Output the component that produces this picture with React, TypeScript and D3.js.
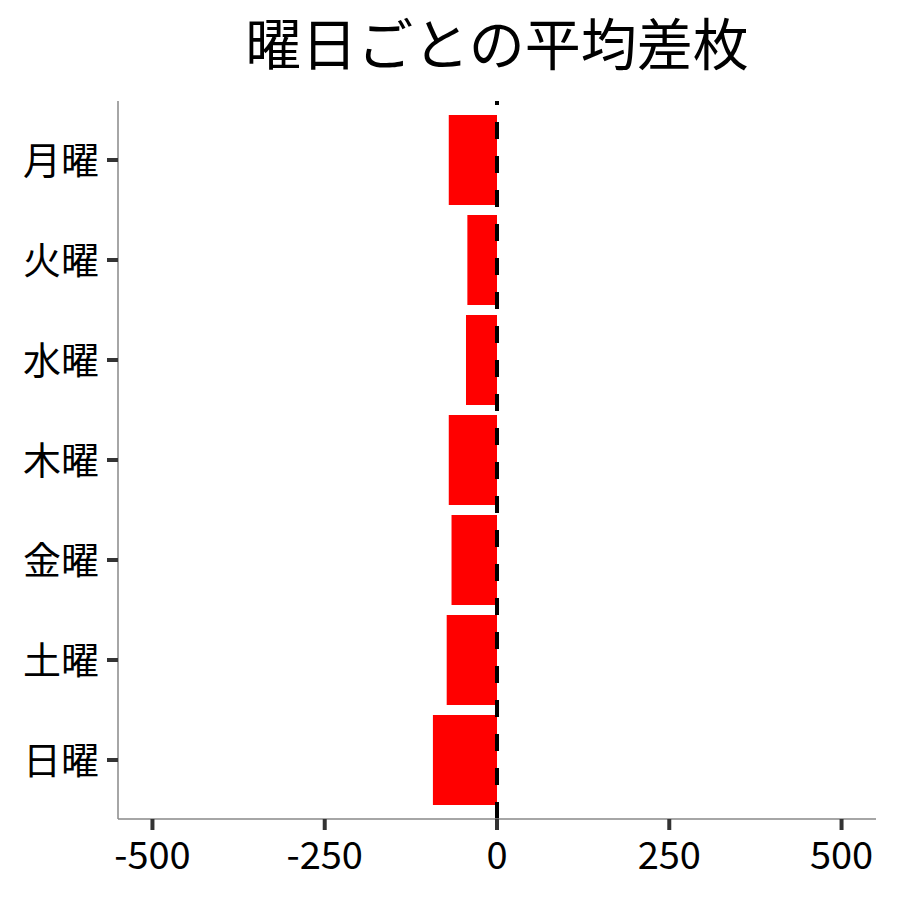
import React from 'react'
import * as d3 from 'd3'

// 曜日ごとの平均差枚
const days = ['月曜', '火曜', '水曜', '木曜', '金曜', '土曜', '日曜']
const avgDiff = [-70, -43, -45, -70, -66, -73, -93]
const xTicks = [-500, -250, 0, 250, 500]

const W = 900
const H = 900
const left = 118
const right = 876
const top = 101
const bottom = 819
const font = '"Noto Sans CJK JP", "Noto Sans", sans-serif'

const App = () => {
  const x = d3.scaleLinear().domain([-550, 550]).range([left, right])
  const y = d3.scaleBand().domain(days).range([110, 810]).paddingInner(0.1).paddingOuter(0.05)
  const bw = y.bandwidth()

  return (
    <svg width={W} height={H} style={{ position: 'absolute', left: 0, top: 0, background: '#fff' }}>
      <text x={497} y={65} textAnchor="middle" fontFamily={font} fontSize={56} fill="#000">
        曜日ごとの平均差枚
      </text>

      {days.map((d, i) => (
        <rect
          key={d}
          x={x(Math.min(0, avgDiff[i]))}
          y={y(d)}
          width={Math.abs(x(avgDiff[i]) - x(0))}
          height={bw}
          fill="#ff0000"
        />
      ))}

      <line x1={x(0)} x2={x(0)} y1={bottom} y2={top} stroke="#000" strokeWidth={4} strokeDasharray="17,17" />

      {/* axes */}
      <line x1={left} x2={left} y1={top} y2={bottom} stroke="#888" strokeWidth={1.5} />
      <line x1={left} x2={right} y1={bottom} y2={bottom} stroke="#888" strokeWidth={1.5} />

      {days.map((d) => {
        const cy = (y(d) as number) + bw / 2
        return (
          <g key={d}>
            <line x1={left - 11} x2={left} y1={cy} y2={cy} stroke="#333" strokeWidth={4} />
            <text x={99} y={cy} dy="0.36em" textAnchor="end" fontFamily={font} fontSize={38} fill="#000">
              {d}
            </text>
          </g>
        )
      })}

      {xTicks.map((t) => (
        <g key={t}>
          <line x1={x(t)} x2={x(t)} y1={bottom} y2={bottom + 11} stroke="#333" strokeWidth={4} />
          <text x={x(t)} y={869} textAnchor="middle" fontFamily={font} fontSize={38} fill="#000">
            {t}
          </text>
        </g>
      ))}
    </svg>
  )
}

export default App
